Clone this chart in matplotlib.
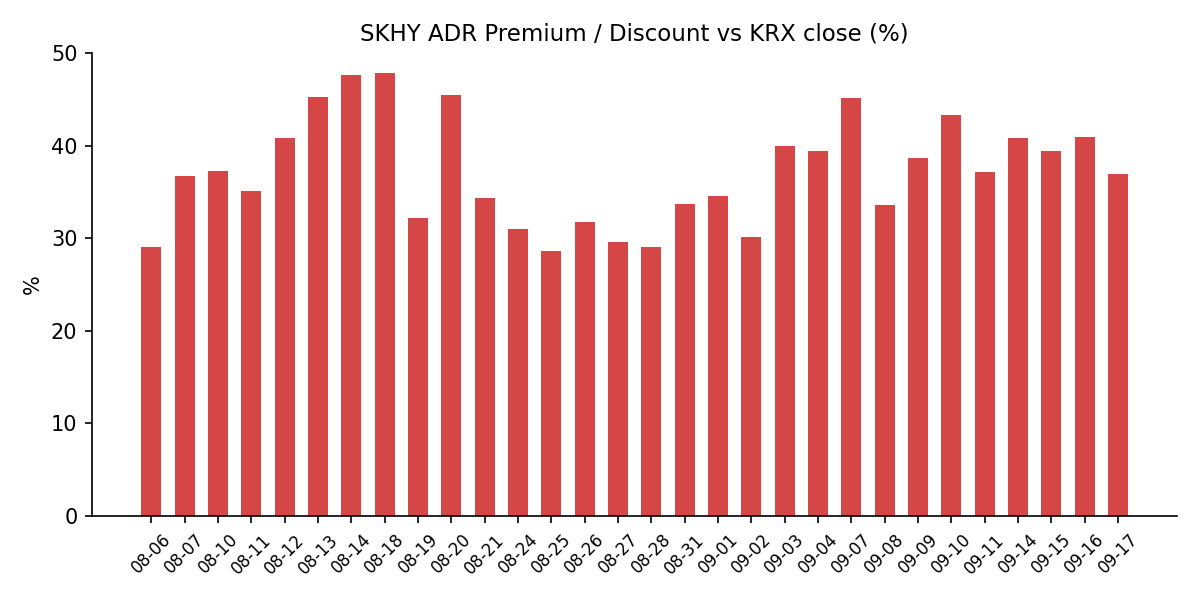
import matplotlib
matplotlib.use("Agg")
import matplotlib.pyplot as plt
import numpy as np

# ADR premium / discount vs KRX close, in percent
dates = ["08-06", "08-07", "08-10", "08-11", "08-12", "08-13", "08-14", "08-18",
         "08-19", "08-20", "08-21", "08-24", "08-25", "08-26", "08-27", "08-28",
         "08-31", "09-01", "09-02", "09-03", "09-04", "09-07", "09-08", "09-09",
         "09-10", "09-11", "09-14", "09-15", "09-16", "09-17"]
premium = [29.05, 36.7, 37.25, 35.1, 40.8, 45.25, 47.65, 47.8,
           32.2, 45.45, 34.35, 31.0, 28.6, 31.75, 29.6, 29.05,
           33.7, 34.55, 30.1, 39.95, 39.4, 45.15, 33.6, 38.65,
           43.3, 37.15, 40.8, 39.4, 40.95, 36.95]

fig, ax = plt.subplots(figsize=(8, 4), dpi=150)
fig.subplots_adjust(left=0.0767, right=0.981, bottom=0.14, top=0.9117)

x = np.arange(len(dates))
ax.bar(x, premium, width=0.6, color="#d54646")

ax.set_xticks(x)
ax.set_xticklabels(dates, rotation=45, fontsize=8)
ax.set_ylim(0, 50)
ax.set_yticks([0, 10, 20, 30, 40, 50])
ax.set_ylabel("%")
ax.set_title("SKHY ADR Premium / Discount vs KRX close (%)", fontsize=11)

ax.spines["top"].set_visible(False)
ax.spines["right"].set_visible(False)

fig.savefig("out.png", dpi=150)
